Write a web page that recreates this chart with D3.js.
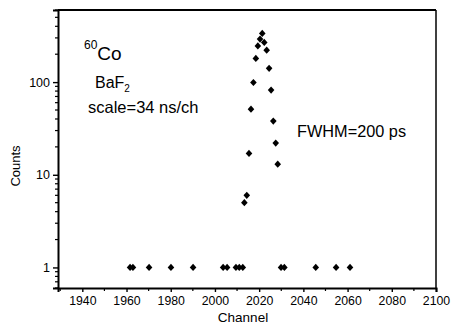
<!DOCTYPE html>
<html>
<head>
<meta charset="utf-8">
<script src="https://cdn.jsdelivr.net/npm/d3@7"></script>
<style>
  body { margin: 0; background: #fff; }
  text { font-family: "Liberation Sans", Arial, sans-serif; fill: #000; }
</style>
</head>
<body>
<div class="chart"></div>
<script>
// data
var channels = [1961.6, 1962.9, 1970.2, 1980.1, 1990.1, 2003.7, 2005.5, 2009.5, 2011.0, 2012.6,
                2013.3, 2014.4, 2015.4, 2016.3, 2017.4, 2018.5, 2019.4, 2020.4, 2021.4, 2022.3,
                2023.4, 2024.5, 2025.4, 2026.4, 2027.5, 2028.4,
                2029.9, 2031.4, 2045.6, 2054.8, 2061.1];
var counts = [1, 1, 1, 1, 1, 1, 1, 1, 1, 1,
              5.0, 6.0, 17, 51, 99, 180, 246, 291, 335, 268,
              221, 141, 82, 38, 22, 13,
              1, 1, 1, 1, 1];
var xTicks = [1940, 1960, 1980, 2000, 2020, 2040, 2060, 2080, 2100];
var yTicks = [1, 10, 100];

var width = 453, height = 330;
var margin = { left: 58, right: 17, top: 10, bottom: 42 };
var plotW = width - margin.left - margin.right,
    plotH = height - margin.top - margin.bottom;

var svg = d3.select(".chart")
  .append("svg")
    .attr("width", width)
    .attr("height", height);

var g = svg.append("g")
    .attr("transform", "translate(" + margin.left + "," + margin.top + ")");

// scales
var x = d3.scaleLinear()
    .domain([1929, 2100])
    .range([0, plotW]);

var y = d3.scaleLog()
    .domain([0.6, 600])
    .range([plotH, 0]);

// minor ticks
var xMinor = d3.range(1930, 2100, 10).filter(function(d){ return xTicks.indexOf(d) < 0; });
var yMinor = [];
[0.1, 1, 10, 100].forEach(function(dec) {
  for (var k = 2; k <= 9; k++) {
    var v = dec * k;
    if (v >= 0.6 && v <= 600) yMinor.push(v);
  }
});

// x axis
var xAxis = g.append("g")
    .attr("transform", "translate(0," + plotH + ")")
    .call(d3.axisBottom(x).tickValues(xTicks).tickSize(4).tickPadding(4).tickFormat(d3.format("d")));
xAxis.select(".domain").attr("stroke-width", 2);
xAxis.selectAll(".tick line").attr("stroke-width", 1.4);
xAxis.selectAll("text").attr("font-size", 12.3);

g.append("g")
    .attr("transform", "translate(0," + plotH + ")")
  .selectAll("line")
  .data(xMinor)
  .enter().append("line")
    .attr("x1", function(d){ return x(d); })
    .attr("x2", function(d){ return x(d); })
    .attr("y1", 0).attr("y2", 3)
    .attr("stroke", "#000").attr("stroke-width", 1.2);

// y axis
var yAxis = g.append("g")
    .call(d3.axisLeft(y).tickValues(yTicks).tickSize(5).tickPadding(3).tickFormat(d3.format("d")));
yAxis.select(".domain").attr("stroke-width", 2);
yAxis.selectAll(".tick line").attr("stroke-width", 1.4);
yAxis.selectAll("text").attr("font-size", 12.5);

g.append("g")
  .selectAll("line")
  .data(yMinor)
  .enter().append("line")
    .attr("x1", -3).attr("x2", 0)
    .attr("y1", function(d){ return y(d); })
    .attr("y2", function(d){ return y(d); })
    .attr("stroke", "#000").attr("stroke-width", 1.2);

// frame top / right
g.append("line")
    .attr("x1", 0).attr("x2", plotW).attr("y1", 0).attr("y2", 0)
    .attr("stroke", "#000").attr("stroke-width", 2);
g.append("line")
    .attr("x1", plotW).attr("x2", plotW).attr("y1", 0).attr("y2", plotH)
    .attr("stroke", "#000").attr("stroke-width", 1.5);

// points
var diamond = "M0,-3.6L3.3,0L0,3.6L-3.3,0Z";
g.selectAll("path.pt")
  .data(channels)
  .enter().append("path")
    .attr("class", "pt")
    .attr("d", diamond)
    .attr("transform", function(d, i) {
      return "translate(" + x(d) + "," + y(counts[i]) + ")";
    })
    .attr("fill", "#000");

// axis titles
svg.append("text")
    .attr("x", margin.left + plotW / 2 - 4)
    .attr("y", 322)
    .attr("text-anchor", "middle")
    .attr("font-size", 13.5)
    .text("Channel");

svg.append("text")
    .attr("transform", "translate(20,166) rotate(-90)")
    .attr("text-anchor", "middle")
    .attr("font-size", 13)
    .text("Counts");

// annotations
var co = svg.append("text").attr("x", 84).attr("y", 60);
co.append("tspan").attr("font-size", 12).attr("dy", -11).text("60");
co.append("tspan").attr("font-size", 19).attr("dy", 11).text("Co");

var baf = svg.append("text").attr("x", 95).attr("y", 88).attr("font-size", 16);
baf.append("tspan").text("BaF");
baf.append("tspan").attr("font-size", 10).attr("dy", 4).text("2");

svg.append("text")
    .attr("x", 88).attr("y", 113)
    .attr("font-size", 16.5)
    .text("scale=34 ns/ch");

svg.append("text")
    .attr("x", 297).attr("y", 137)
    .attr("font-size", 16.3)
    .text("FWHM=200 ps");
</script>
</body>
</html>
